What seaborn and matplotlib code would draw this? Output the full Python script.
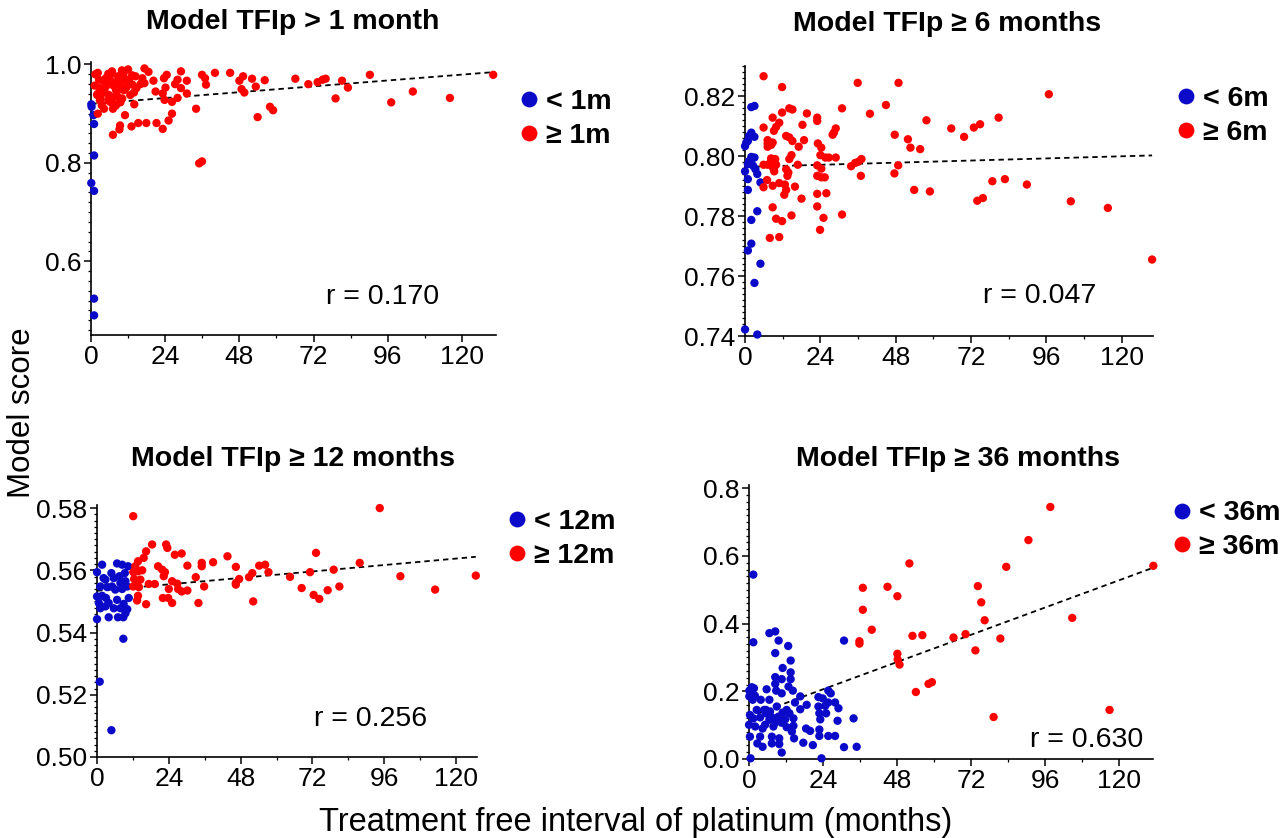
import matplotlib
matplotlib.use("Agg")
import matplotlib.pyplot as plt
from matplotlib.ticker import MultipleLocator, AutoMinorLocator, FormatStrFormatter
import seaborn as sns
import pandas as pd

sns.set_style("ticks", {"axes.edgecolor": "black", "xtick.color": "black",
                        "ytick.color": "black", "text.color": "black",
                        "axes.labelcolor": "black"})
plt.rcParams['font.family'] = ['Liberation Sans', 'DejaVu Sans']

BLUE = '#0A0AC8'
RED = '#FF0000'

# ---------------- panel 1 : TFIp > 1 month ----------------
p1_lo_x = [0.1, 0.2, 0.8, 1.0, 1.0, 0.1, 1.0, 1.0, 1.0]
p1_lo_y = [0.919, 0.914, 0.897, 0.879, 0.815, 0.759, 0.743, 0.524, 0.490]
p1_hi_x = [130.1, 116.1, 104.1, 97.1, 90.2, 83.1, 81.2, 79.1, 75.9, 74.9,
           73.3, 70.3, 66.1, 58.9, 57.9, 56.2, 53.3, 53.9, 52.1, 49.2,
           48.7, 49.6, 48.0, 45.0, 40.1, 37.2, 36.9, 35.9, 34.0, 35.9,
           35.0, 31.0, 31.0, 29.1, 29.1, 28.0, 28.0, 27.2, 26.2, 26.2,
           25.1, 24.5, 24.1, 23.8, 23.6, 23.2, 23.2, 21.2, 20.9, 20.2,
           18.6, 17.3, 17.3, 17.9, 16.0, 15.3, 14.7, 14.4, 14.0, 13.1,
           12.0, 12.3, 11.4, 11.0, 10.5, 10.1, 9.4, 9.2, 8.8, 8.8,
           8.1, 7.1, 7.1, 6.8, 6.5, 5.8, 4.8, 4.2, 3.5, 2.9,
           2.2, 2.2, 2.0, 2.6, 3.1, 4.8, 5.5, 7.5, 8.1, 9.4,
           10.7, 12.7, 13.4, 16.6, 10.7, 9.4, 6.2, 7.5,
           1.4, 1.2, 2.1, 4.0, 4.5, 5.6, 6.7, 7.3, 8.4, 8.9,
           10.0, 10.0, 9.5, 11.7, 13.3, 13.9, 16.6, 5.6, 2.9, 7.8]
p1_hi_y = [0.979, 0.932, 0.945, 0.923, 0.979, 0.953, 0.967, 0.931, 0.971, 0.969,
           0.964, 0.960, 0.971, 0.907, 0.914, 0.968, 0.955, 0.893, 0.971, 0.976,
           0.950, 0.943, 0.967, 0.983, 0.983, 0.959, 0.972, 0.979, 0.910, 0.803,
           0.799, 0.967, 0.941, 0.986, 0.952, 0.969, 0.932, 0.960, 0.900, 0.924,
           0.886, 0.979, 0.953, 0.928, 0.972, 0.869, 0.941, 0.881, 0.945, 0.967,
           0.985, 0.992, 0.962, 0.881, 0.960, 0.881, 0.952, 0.976, 0.919, 0.874,
           0.990, 0.969, 0.953, 0.897, 0.981, 0.931, 0.876, 0.868, 0.976, 0.952,
           0.917, 0.857, 0.910, 0.986, 0.966, 0.938, 0.955, 0.910, 0.917, 0.952,
           0.983, 0.900, 0.938, 0.969, 0.931, 0.972, 0.962, 0.959, 0.948, 0.962,
           0.948, 0.938, 0.959, 0.972, 0.972, 0.924, 0.924, 0.934,
           0.980, 0.957, 0.940, 0.967, 0.943, 0.927, 0.981, 0.957, 0.937, 0.971,
           0.988, 0.950, 0.923, 0.967, 0.978, 0.943, 0.964, 0.981, 0.927, 0.916]

# ---------------- panel 2 : TFIp >= 6 months ----------------
p2_lo_x = [3.0, 2.0, 2.0, 1.3, 3.0, 0.4, 0.0, 0.9, 2.0, 3.0,
           1.3, 2.0, 2.6, 0.9, 3.3, 3.9, 0.0, 0.9, 0.9, 4.9,
           3.9, 2.0, 2.0, 0.9, 4.9, 3.0, 0.0, 3.9]
p2_lo_y = [0.8167, 0.8163, 0.8078, 0.8067, 0.8064, 0.8045, 0.8033, 0.8050, 0.7997, 0.7995,
           0.7983, 0.7975, 0.7967, 0.7973, 0.7956, 0.7940, 0.7949, 0.7923, 0.7887, 0.7912,
           0.7816, 0.7787, 0.7708, 0.7685, 0.7641, 0.7577, 0.7422, 0.7405]
p2_hi_x = [5.9, 11.8, 35.9, 48.9, 96.8, 44.9, 30.9, 14.1, 15.1, 11.8,
           39.8, 19.7, 23.0, 8.8, 80.8, 57.8, 23.0, 10.9, 18.3, 74.9,
           72.9, 5.9, 65.7, 9.9, 9.2, 28.9, 28.3, 27.9, 13.1, 14.1,
           69.8, 47.7, 51.9, 7.2, 15.1, 18.8, 23.2, 7.2, 8.3, 8.8,
           17.1, 7.2, 24.3, 52.7, 55.8, 24.0, 14.8, 25.6, 28.9, 26.7,
           37.1, 8.3, 9.6, 14.1, 5.9, 7.2, 8.3, 9.9, 9.2, 8.8,
           16.8, 23.0, 33.8, 35.1, 36.1, 48.8, 13.1, 13.8, 13.5, 9.3,
           24.3, 23.0, 24.3, 25.4, 36.9, 47.6, 7.0, 82.8, 78.8, 10.9,
           12.7, 8.8, 5.9, 15.9, 89.8, 13.1, 53.9, 58.9, 12.5, 25.9,
           23.0, 18.0, 74.0, 75.8, 103.8, 115.6, 8.8, 23.0, 30.9, 14.8,
           9.9, 11.8, 25.0, 23.9, 7.9, 10.9, 129.7]
p2_hi_y = [0.8266, 0.8230, 0.8244, 0.8244, 0.8206, 0.8170, 0.8159, 0.8159, 0.8155, 0.8145,
           0.8141, 0.8142, 0.8128, 0.8128, 0.8128, 0.8119, 0.8117, 0.8111, 0.8104, 0.8106,
           0.8095, 0.8095, 0.8092, 0.8097, 0.8084, 0.8092, 0.8078, 0.8071, 0.8067, 0.8062,
           0.8064, 0.8071, 0.8056, 0.8053, 0.8050, 0.8053, 0.8042, 0.8042, 0.8037, 0.8045,
           0.8031, 0.8031, 0.8028, 0.8028, 0.8023, 0.8003, 0.8003, 0.7995, 0.7995, 0.7995,
           0.7990, 0.7992, 0.7990, 0.7990, 0.7971, 0.7971, 0.7982, 0.7971, 0.7958, 0.7963,
           0.7971, 0.7969, 0.7966, 0.7977, 0.7981, 0.7969, 0.7956, 0.7945, 0.7934, 0.7949,
           0.7958, 0.7934, 0.7929, 0.7929, 0.7934, 0.7942, 0.7920, 0.7923, 0.7916, 0.7910,
           0.7905, 0.7901, 0.7896, 0.7898, 0.7905, 0.7887, 0.7887, 0.7882, 0.7871, 0.7876,
           0.7874, 0.7858, 0.7851, 0.7860, 0.7849, 0.7827, 0.7829, 0.7832, 0.7805, 0.7802,
           0.7791, 0.7783, 0.7794, 0.7754, 0.7727, 0.7730, 0.7655]

# ---------------- panel 3 : TFIp >= 12 months ----------------
p3_lo_x = [1.7, 0.0, 2.2, 2.8, 4.8, 6.7, 8.4, 10.4, 5.6, 7.5,
           9.3, 7.8, 9.5, 8.4, 10.1, 1.1, 3.4, 5.0, 6.1, 0.0,
           1.7, 3.0, 6.7, 10.6, 0.6, 3.9, 8.9, 5.6, 1.1, 7.8,
           10.1, 2.8, 9.5, 7.0, 8.8, 3.9, 0.0, 8.8, 0.9, 4.8]
p3_lo_y = [0.5618, 0.5594, 0.5575, 0.5570, 0.5591, 0.5622, 0.5618, 0.5613, 0.5575, 0.5581,
           0.5591, 0.5559, 0.5565, 0.5540, 0.5548, 0.5548, 0.5546, 0.5548, 0.5538, 0.5516,
           0.5518, 0.5511, 0.5505, 0.5511, 0.5495, 0.5495, 0.5492, 0.5478, 0.5478, 0.5478,
           0.5475, 0.5484, 0.5462, 0.5449, 0.5449, 0.5449, 0.5443, 0.5380, 0.5242, 0.5086]
p3_hi_x = [12.1, 18.4, 16.4, 23.1, 23.5, 15.6, 26.0, 28.3, 13.7, 12.8,
           20.4, 30.2, 35.0, 35.0, 38.8, 43.6, 46.4, 54.2, 56.2, 57.3,
           51.9, 50.8, 12.2, 13.7, 15.1, 12.2, 21.8, 22.7, 22.3, 12.4,
           13.4, 14.5, 33.0, 46.4, 47.5, 46.4, 25.1, 26.8, 17.3, 19.3,
           12.1, 14.0, 24.0, 27.1, 30.2, 35.8, 28.3, 13.7, 22.0, 23.8,
           13.4, 25.1, 16.4, 33.9, 52.2,
           64.5, 68.4, 71.2, 73.2, 72.4, 74.3, 77.1, 79.1, 81.0, 87.8,
           94.5, 101.4, 113.0, 126.6]
p3_hi_y = [0.5774, 0.5683, 0.5661, 0.5683, 0.5672, 0.5640, 0.5650, 0.5654, 0.5629, 0.5613,
           0.5613, 0.5615, 0.5624, 0.5613, 0.5626, 0.5645, 0.5611, 0.5615, 0.5618, 0.5594,
           0.5591, 0.5578, 0.5594, 0.5597, 0.5600, 0.5594, 0.5602, 0.5594, 0.5581, 0.5572,
           0.5565, 0.5570, 0.5578, 0.5559, 0.5572, 0.5554, 0.5565, 0.5557, 0.5556, 0.5556,
           0.5548, 0.5546, 0.5540, 0.5540, 0.5535, 0.5548, 0.5532, 0.5518, 0.5511, 0.5511,
           0.5503, 0.5495, 0.5491, 0.5495, 0.5500,
           0.5579, 0.5543, 0.5594, 0.5656, 0.5521, 0.5508, 0.5536, 0.5602, 0.5548, 0.5624,
           0.5800, 0.5581, 0.5538, 0.5583]

# ---------------- panel 4 : TFIp >= 36 months ----------------
p4_lo_x = [1.4, 1.4, 6.6, 8.5, 9.6, 12.7, 8.5, 13.5, 13.5, 13.5,
           10.6, 8.5, 8.5, 8.8, 12.8, 14.2, 5.7, 0.9, 1.6, 0.1,
           1.2, 6.6, 16.6, 22.5, 23.9, 25.7, 26.5, 30.8, 14.9, 16.6,
           22.5, 24.7, 27.9, 29.0, 4.9, 6.8, 9.0, 10.9, 13.1, 2.5,
           0.3, 1.4, 3.6, 7.4, 9.5, 11.7, 14.4, 23.1, 25.0, 28.7,
           33.9, 0.0, 2.0, 5.2, 7.9, 12.2, 18.5, 19.8, 22.8, 0.3,
           3.6, 7.4, 9.8, 14.6, 22.8, 25.7, 27.9, 17.6, 20.7, 2.7,
           4.4, 7.4, 9.8, 30.8, 34.9, 10.6, 0.5, 23.5, 0.1, 1.9,
           5.5, 6.6, 8.4, 10.6, 12.2, 14.4, 18.7, 5.5, 4.4, 13.9,
           22.8, 25.7, 3.8, 10.6, 10.9]
p4_lo_y = [0.545, 0.345, 0.372, 0.377, 0.350, 0.334, 0.313, 0.291, 0.256, 0.236,
           0.236, 0.242, 0.222, 0.202, 0.214, 0.202, 0.206, 0.212, 0.209, 0.202,
           0.175, 0.175, 0.185, 0.183, 0.179, 0.202, 0.194, 0.350, 0.167, 0.147,
           0.155, 0.157, 0.167, 0.150, 0.145, 0.140, 0.155, 0.137, 0.135, 0.145,
           0.130, 0.120, 0.123, 0.123, 0.125, 0.117, 0.120, 0.117, 0.135, 0.113,
           0.120, 0.101, 0.096, 0.101, 0.096, 0.094, 0.090, 0.083, 0.087, 0.066,
           0.066, 0.066, 0.061, 0.061, 0.068, 0.068, 0.068, 0.048, 0.041, 0.046,
           0.036, 0.046, 0.044, 0.035, 0.036, 0.019, 0.002, 0.002, 0.185, 0.187,
           0.135, 0.116, 0.107, 0.107, 0.145, 0.098, 0.160, 0.145, 0.090, 0.081,
           0.135, 0.167, 0.175, 0.194, 0.269]
p4_hi_x = [36.9, 44.9, 36.9, 39.8, 35.8, 35.8, 48.1, 48.1, 48.2, 48.8,
           52.0, 53.0, 56.2, 54.1, 58.2, 59.3, 66.3, 70.2, 73.4, 74.2,
           75.3, 76.4, 79.3, 81.5, 83.4, 90.6, 97.7, 104.8, 116.9, 131.1]
p4_hi_y = [0.506, 0.509, 0.441, 0.382, 0.348, 0.341, 0.481, 0.311, 0.294, 0.279,
           0.578, 0.364, 0.366, 0.198, 0.222, 0.227, 0.359, 0.369, 0.321, 0.511,
           0.463, 0.410, 0.124, 0.356, 0.568, 0.647, 0.745, 0.417, 0.145, 0.571]

titles = ["Model TFIp > 1 month", "Model TFIp \u2265 6 months",
          "Model TFIp \u2265 12 months", "Model TFIp \u2265 36 months"]
group_labels = [["< 1m", "\u2265 1m"], ["< 6m", "\u2265 6m"],
                ["< 12m", "\u2265 12m"], ["< 36m", "\u2265 36m"]]
r_labels = ["r = 0.170", "r = 0.047", "r = 0.256", "r = 0.630"]

fig = plt.figure(figsize=(12.85, 8.38), dpi=100)

axes_rects = [[0.0708, 0.6002, 0.3152, 0.3258],
              [0.5798, 0.5990, 0.3175, 0.3222],
              [0.0755, 0.0967, 0.2957, 0.3007],
              [0.5829, 0.0943, 0.3144, 0.3270]]
xmax = [131, 130, 127, 131]
ylims = [(0.45, 1.005), (0.74, 0.83), (0.50, 0.581), (0.0, 0.81)]
ysteps = [0.2, 0.02, 0.02, 0.2]
yfmts = ['%.1f', '%.2f', '%.2f', '%.1f']
title_pos = [(0.228, 0.974), (0.737, 0.971), (0.228, 0.452), (0.7455, 0.452)]
r_pos = [(0.298, 0.645), (0.809, 0.647), (0.288, 0.142), (0.846, 0.117)]
legend_pos = [(0.4047, 0.8575), (0.916, 0.862), (0.396, 0.3565), (0.913, 0.367)]

panels = [(p1_lo_x, p1_lo_y, p1_hi_x, p1_hi_y),
          (p2_lo_x, p2_lo_y, p2_hi_x, p2_hi_y),
          (p3_lo_x, p3_lo_y, p3_hi_x, p3_hi_y),
          (p4_lo_x, p4_lo_y, p4_hi_x, p4_hi_y)]

for i, (lo_x, lo_y, hi_x, hi_y) in enumerate(panels):
    ax = fig.add_axes(axes_rects[i])
    labels = group_labels[i]
    df = pd.DataFrame({'tfi': lo_x + hi_x,
                       'score': lo_y + hi_y,
                       'group': [labels[0]] * len(lo_x) + [labels[1]] * len(hi_x)})

    # least squares line over all patients
    sns.regplot(data=df, x='tfi', y='score', scatter=False, ci=None, truncate=True,
                color='black', line_kws=dict(lw=1.3, ls=(0, (3, 2.2))), ax=ax)
    sns.scatterplot(data=df, x='tfi', y='score', hue='group', hue_order=labels,
                    palette=[BLUE, RED], s=36, linewidth=0, clip_on=False,
                    zorder=3, ax=ax)

    ax.set_xlim(0, xmax[i])
    ax.set_ylim(*ylims[i])
    ax.xaxis.set_major_locator(MultipleLocator(24))
    ax.xaxis.set_minor_locator(MultipleLocator(12))
    ax.yaxis.set_major_locator(MultipleLocator(ysteps[i]))
    ax.yaxis.set_minor_locator(AutoMinorLocator(10))
    ax.yaxis.set_major_formatter(FormatStrFormatter(yfmts[i]))
    ax.tick_params(which='major', length=5, width=1.1, labelsize=19, pad=2)
    ax.tick_params(which='minor', length=2.5, width=0.9)
    for sp in ['left', 'bottom']:
        ax.spines[sp].set_linewidth(1.2)
    sns.despine(ax=ax)
    ax.set_xlabel('')
    ax.set_ylabel('')

    sns.move_legend(ax, 'center left', bbox_to_anchor=legend_pos[i],
                    bbox_transform=fig.transFigure, frameon=False, title='',
                    markerscale=1.9, handlelength=0.6, handletextpad=0.3,
                    labelspacing=0.28, borderpad=0, borderaxespad=0,
                    prop={'weight': 'bold', 'size': 20.5})

    fig.text(*title_pos[i], titles[i], ha='center', va='center',
             fontsize=20.5, fontweight='bold')
    fig.text(*r_pos[i], r_labels[i], ha='center', va='center', fontsize=20.5)

fig.text(0.495, 0.019, 'Treatment free interval of platinum (months)',
         ha='center', va='center', fontsize=23.5)
fig.text(0.017, 0.508, 'Model score', rotation=90,
         ha='center', va='center', fontsize=22.5)

fig.savefig('out.png', dpi=100)
